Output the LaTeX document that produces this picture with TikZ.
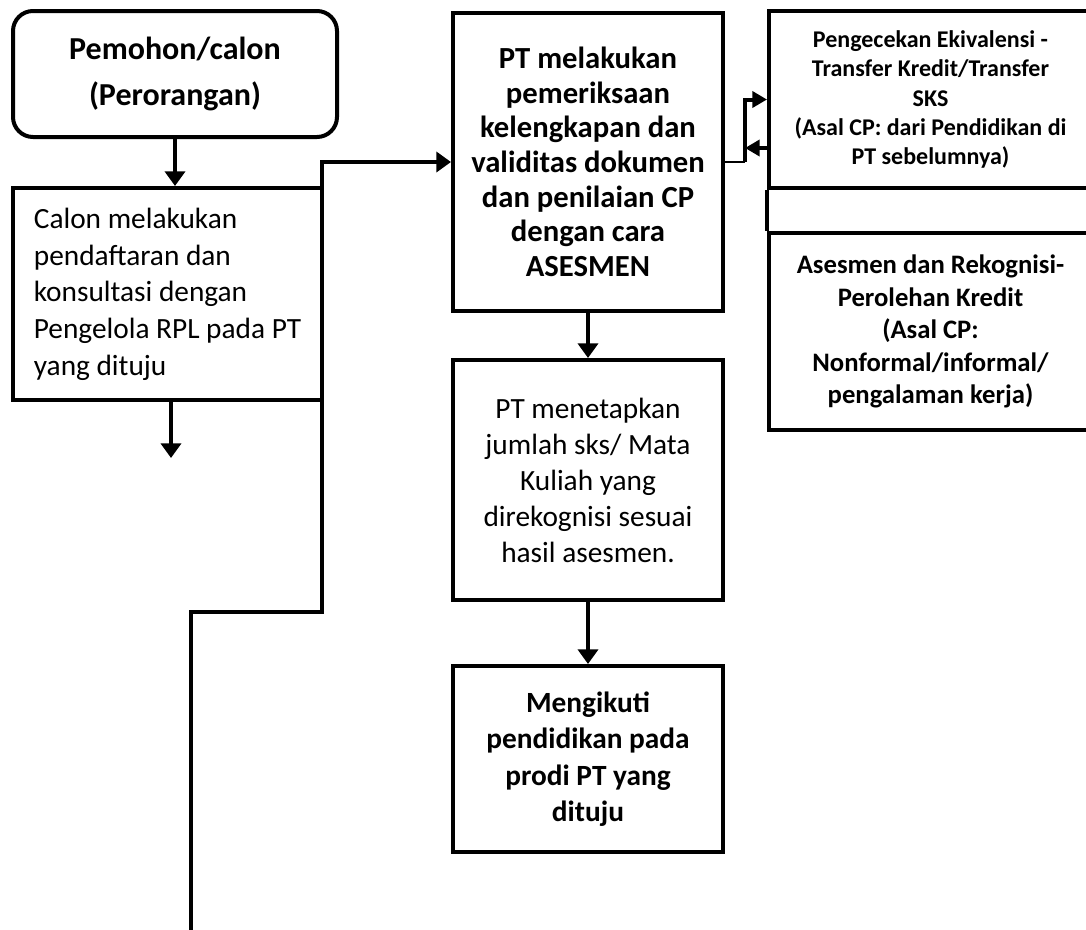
\documentclass[tikz,border=0pt]{standalone}
\usepackage{fontspec}
\setmainfont{Carlito}
\usetikzlibrary{arrows.meta}

\begin{document}
\begin{tikzpicture}[x=0.75pt,y=-0.75pt,
  kotak/.style={draw,line width=3pt,inner sep=0pt,align=center},
  panah/.style={line width=3.5pt,-{Triangle[length=11pt,width=15pt]}},
  panahkecil/.style={line width=3pt,-{Triangle[length=11pt,width=12pt]}}]
\useasboundingbox (0,0) rectangle (1086,929);
% kolom kiri
\node[kotak,rounded corners=15pt,minimum width=243pt,minimum height=94.5pt,font=\fontsize{24}{35}\selectfont\bfseries] (pem) at (175,74) {Pemohon/calon\\(Perorangan)};
\node[kotak,align=left,minimum width=231.75pt,minimum height=159pt,font=\fontsize{22}{27.5}\selectfont] (calon) at (167.5,294) {Calon melakukan\\pendaftaran dan\\konsultasi dengan\\Pengelola RPL pada PT\\yang dituju};
% kolom tengah
\node[kotak,minimum width=202.5pt,minimum height=223.5pt,font=\fontsize{23}{26}\selectfont\bfseries] (pt) at (588,162) {PT melakukan\\pemeriksaan\\kelengkapan dan\\validitas dokumen\\dan penilaian CP\\dengan cara\\ASESMEN};
\node[kotak,minimum width=202.5pt,minimum height=180pt,font=\fontsize{22}{27}\selectfont] (tetap) at (588,480) {PT menetapkan\\jumlah sks/ Mata\\Kuliah yang\\direkognisi sesuai\\hasil asesmen.};
\node[kotak,minimum width=202.5pt,minimum height=139.5pt,font=\fontsize{22}{27.4}\selectfont\bfseries] (ikut) at (588,759) {Mengikuti\\pendidikan pada\\prodi PT yang\\dituju};
% kolom kanan
\node[kotak,minimum width=242.25pt,minimum height=132.75pt,font=\fontsize{18}{22}\selectfont\bfseries] (ekiv) at (930.5,99.5) {Pengecekan Ekivalensi -\\Transfer Kredit/Transfer\\SKS\\(Asal CP: dari Pendidikan di\\PT sebelumnya)};
\node[kotak,minimum width=242.25pt,minimum height=147.75pt,font=\fontsize{20}{24.4}\selectfont\bfseries] (rekog) at (930.5,331.5) {Asesmen dan Rekognisi-\\Perolehan Kredit\\(Asal CP:\\Nonformal/informal/\\pengalaman kerja)};
\draw[line width=3pt] (ekiv.south west) -- (rekog.north west);
% panah
\draw[panah] (pem.south) -- (pem.south |- calon.north);
\coordinate (lepas) at (171,458);
\draw[panah] (calon.south -| lepas) -- (lepas);
\coordinate (bawah) at (191,935);
\coordinate (belok) at (322,612);
\draw[panah] (bawah) |- (belok) |- (pt.west);
\draw[panah] (pt.south) -- (tetap.north);
\draw[panah] (tetap.south) -- (ikut.north);
\coordinate (cabang) at (745,162);
\coordinate (balik) at (745,148);
\draw[line width=1.5pt] (pt.east) -- (cabang);
\draw[panahkecil] (cabang) |- (ekiv.west);
\draw[panahkecil] (balik -| ekiv.west) -- (balik);
\end{tikzpicture}
\end{document}
